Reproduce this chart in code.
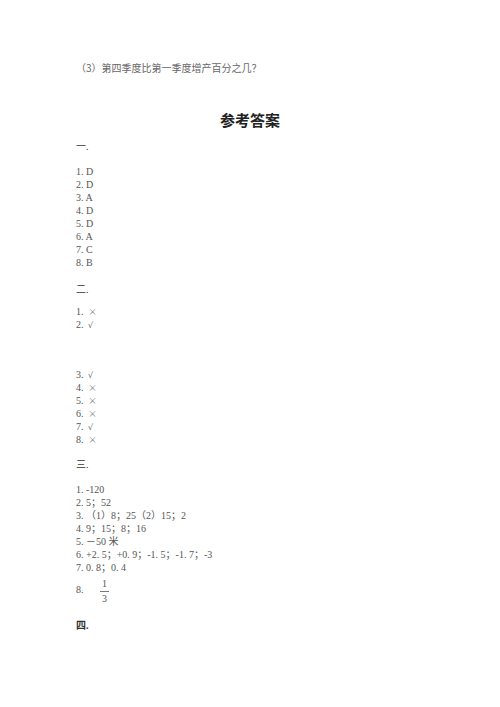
<!DOCTYPE html>
<html>
<head>
<meta charset="utf-8">
<script src="https://cdn.jsdelivr.net/npm/chart.js@4"></script>
<style>
  html, body { margin: 0; padding: 0; background: #fff; }
  #page { position: relative; width: 500px; height: 707px; overflow: hidden;
          font-family: "Liberation Serif", "Noto Sans CJK SC", serif; color: #555; }
  .ln { position: absolute; line-height: 1; white-space: nowrap; transform: translateY(-50%); font-size: 10px; }
  .head { color: #333; }
  .mark { display: inline-block; line-height: 1; color: #666; margin-left: 2px; }
  .cross { font-family: "Noto Sans CJK SC", sans-serif; font-weight: 300; font-size: 9px; }
  .tick { font-family: "DejaVu Sans", sans-serif; font-size: 8px; }
  .title { font-family: "Noto Sans CJK SC", sans-serif; font-weight: bold; font-size: 15px; color: #222; left: 0; width: 500px; text-align: center; }
  .frac { position: absolute; text-align: center; font-size: 10px; line-height: 1; color: #555; }
  .frac span { display: block; }
  .frac .bar { border-top: 1px solid #777; margin: 2px 0; }
</style>
</head>
<body>
<div id="page"></div>
<script>
// 题目与答案
const question = '（3）第四季度比第一季度增产百分之几？';
const title = '参考答案';
const headings = ['一.', '二.', '三.', '四.'];
const answers1 = ['D', 'D', 'A', 'D', 'D', 'A', 'C', 'B'];
const answers2 = ['×', '√', '√', '×', '×', '×', '√', '×'];
const answers3 = ['-120', '5；52', '（1）8；25（2）15；2', '9；15；8；16', '－50 米',
                  '+2. 5；+0. 9；-1. 5；-1. 7；-3', '0. 8；0. 4'];
const fracNum = '1';
const fracDen = '3';

const page = document.getElementById('page');

function addLine(text, x, y, cls) {
    const d = document.createElement('div');
    d.className = 'ln' + (cls ? ' ' + cls : '');
    d.style.left = x + 'px';
    d.style.top = y + 'px';
    d.textContent = text;
    page.appendChild(d);
    return d;
}

const left = 76;
const step = 13;

const q = addLine(question, 76, 68);
q.style.fontFamily = '"Noto Sans CJK SC", sans-serif';
q.style.fontSize = '10px';
q.style.color = '#666';
addLine(title, 0, 119, 'title');

// 一.
addLine(headings[0], left, 147, 'head');
answers1.forEach((a, i) => addLine((i + 1) + '. ' + a, left, 172 + i * step));

// 二. (第2题后有空白)
addLine(headings[1], left, 290, 'head');
answers2.forEach((a, i) => {
    const y = i < 2 ? 312 + i * step : 375 + (i - 2) * step;
    const d = addLine((i + 1) + '. ', left, y);
    const m = document.createElement('span');
    m.className = 'mark ' + (a === '×' ? 'cross' : 'tick');
    m.textContent = a;
    d.appendChild(m);
});

// 三.
addLine(headings[2], left, 465, 'head');
answers3.forEach((a, i) => addLine((i + 1) + '. ' + a, left, 490 + i * step));
addLine((answers3.length + 1) + '.', left, 590);
const fr = document.createElement('div');
fr.className = 'frac';
fr.style.left = '100px';
fr.style.top = '579px';
fr.style.width = '9px';
fr.innerHTML = '<span>' + fracNum + '</span><span class="bar"></span><span>' + fracDen + '</span>';
page.appendChild(fr);

// 四.
const h4 = addLine(headings[3], left, 626, 'head');
h4.style.fontWeight = 'bold';
</script>
</body>
</html>
